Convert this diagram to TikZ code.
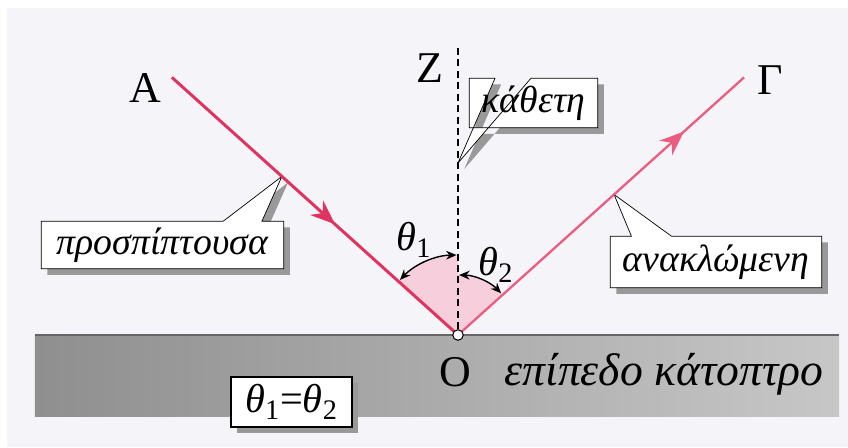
\documentclass[tikz,border=0pt]{standalone}
\usepackage{fontspec}
\setmainfont{Liberation Serif}
\usetikzlibrary{arrows.meta,calc,shadows,backgrounds,decorations.markings}
\definecolor{incray}{RGB}{224,52,96}
\definecolor{refray}{RGB}{234,92,128}
\definecolor{sector}{RGB}{247,206,220}
\definecolor{paper}{RGB}{245,244,248}

\begin{document}
\begin{tikzpicture}[line width=0.8pt,>={Stealth[length=6pt,width=5pt]},
  lbl/.style={font=\fontsize{21.5}{26}\selectfont\itshape,inner sep=0pt},
  pt/.style={font=\fontsize{25}{30}\selectfont},
  ang/.style={font=\fontsize{23}{27}\selectfont},
  callout/.style={draw,fill=white,drop shadow={shadow xshift=3.5pt,shadow yshift=-3.5pt,fill=black!40,opacity=1}},
  raymark/.style={postaction={decorate},decoration={markings,mark=at position #1 with {\arrow{Stealth[length=14pt,width=11pt]}}}}]
  \useasboundingbox (0,0) rectangle (16.96,8.94);
  \begin{scope}[on background layer]
    \fill[paper] (0.14,0) rectangle (16.96,8.78);
  \end{scope}
  % epipedo katoptro
  \shade[left color=black!44,right color=black!22] (0.7,0.62) rectangle (16.78,2.24);
  \draw[black!60,line width=1.2pt] (0.7,2.24) -- (16.78,2.24);
  \coordinate (O) at (9.16,2.24);
  \coordinate (Zt) at (9.16,7.98);
  \coordinate (A) at ($(O)+(138:7.7)$);
  \coordinate (G) at ($(O)+(42:7.7)$);
  \coordinate (tpros) at ($(O)+(138:4.74)$);
  \coordinate (tkath) at ($(O)+(90:3.44)$);
  \coordinate (tanak) at ($(O)+(42:4.2)$);
  % gonies
  \fill[sector] (O) -- ++(138:1.6) arc[start angle=138,end angle=90,radius=1.6] -- cycle;
  \fill[sector] (O) -- ++(90:1.2) arc[start angle=90,end angle=42,radius=1.2] -- cycle;
  \draw[<->] ($(O)+(136.5:1.6)$) arc[start angle=136.5,end angle=91,radius=1.6];
  \draw[<->] ($(O)+(89:1.2)$) arc[start angle=89,end angle=44,radius=1.2];
  % aktines
  \draw[incray,line width=1.7pt,raymark=0.57] (A) -- (O);
  \draw[refray,line width=1.3pt,raymark=0.79] (O) -- (G);
  \draw[dash pattern=on 4pt off 2.5pt] (Zt) -- (O);
  \node[circle,draw,fill=white,inner sep=0pt,minimum size=6pt,line width=0.6pt] (Odot) at (O) {};
  \node[pt] (lA) at (2.9,7.18) {Α};
  \node[pt] (lZ) at (8.6,7.58) {Ζ};
  \node[pt] (lG) at (15.4,7.34) {Γ};
  \node[pt] (lO) at (9.1,1.5) {Ο};
  \node[ang] (th1) at (8.28,4.14) {\textit{θ}\textsubscript{1}};
  \node[ang] (th2) at (9.92,3.64) {\textit{θ}\textsubscript{2}};
  % plaisia
  \node[lbl,minimum width=4.82cm,minimum height=0.92cm] (pros) at (3.25,4.04) {προσπίπτουσα};
  \node[lbl,minimum width=2.54cm,minimum height=0.96cm] (kath) at (10.67,6.88) {κάθετη};
  \node[lbl,minimum width=4.2cm,minimum height=1cm] (anak) at (14.32,3.70) {ανακλώμενη};
  \begin{scope}[on background layer]
    \foreach \n/\t/\a/\b in {pros/tpros/0.75/0.91,kath/tkath/0.2/0.48,anak/tanak/0.1/0.29}
      \draw[callout] (\n.north west) -- ($(\n.north west)!\a!(\n.north east)$) -- (\t)
        -- ($(\n.north west)!\b!(\n.north east)$) -- (\n.north east) -- (\n.south east)
        -- (\n.south west) -- cycle;
  \end{scope}
  \node[lbl,font=\fontsize{26}{30}\selectfont\itshape] (mir) at (13.28,1.46) {επίπεδο κάτοπτρο};
  \node[callout,ang,minimum width=2.42cm,minimum height=1cm,inner sep=2pt] (eq) at (5.83,0.9)
    {\textit{θ}\textsubscript{1}=\textit{θ}\textsubscript{2}};
\end{tikzpicture}
\end{document}
